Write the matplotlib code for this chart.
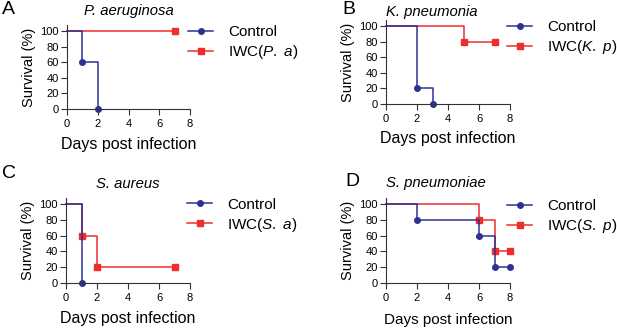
import matplotlib
matplotlib.use("Agg")
import matplotlib.pyplot as plt

plt.rcParams['font.family'] = ['Liberation Sans', 'DejaVu Sans']
plt.rcParams['mathtext.fontset'] = 'custom'
plt.rcParams['mathtext.rm'] = 'Liberation Sans'
plt.rcParams['mathtext.it'] = 'Liberation Sans:italic'

BLUE = '#2e3192'
RED = '#ee2d2d'

# survival data (days, percent)
a_ctrl_t = [0, 1, 2]
a_ctrl_s = [100, 60, 0]
a_iwc_t = [0, 7]
a_iwc_s = [100, 100]

b_ctrl_t = [0, 2, 3]
b_ctrl_s = [100, 20, 0]
b_iwc_t = [0, 5, 7]
b_iwc_s = [100, 80, 80]

c_ctrl_t = [0, 1]
c_ctrl_s = [100, 0]
c_iwc_t = [0, 1, 2, 7]
c_iwc_s = [100, 60, 20, 20]

d_ctrl_t = [0, 2, 6, 7, 8]
d_ctrl_s = [100, 80, 60, 20, 20]
d_iwc_t = [0, 6, 7, 8]
d_iwc_s = [100, 80, 40, 40]

xticks = [0, 2, 4, 6, 8]
yticks = [0, 20, 40, 60, 80, 100]

panels = [
    dict(letter='A', title='P. aeruginosa', iwc='IWC($\\it{P.\\ a}$)',
         ctrl=(a_ctrl_t, a_ctrl_s), treat=(a_iwc_t, a_iwc_s),
         rect=[0.1086, 0.6687, 0.1994, 0.2559], title_ha='center', tpad=7,
         letter_xy=(0.003, 0.998), leg_xy=(0.3047, 0.923), xpad=5.5, xfs=11.5),
    dict(letter='B', title='K. pneumonia', iwc='IWC($\\it{K.\\ p}$)',
         ctrl=(b_ctrl_t, b_ctrl_s), treat=(b_iwc_t, b_iwc_s),
         rect=[0.6256, 0.6839, 0.2010, 0.2559], title_ha='left', tpad=3,
         letter_xy=(0.555, 0.998), leg_xy=(0.8217, 0.939), xpad=5, xfs=11.5),
    dict(letter='C', title='S. aureus', iwc='IWC($\\it{S.\\ a}$)',
         ctrl=(c_ctrl_t, c_ctrl_s), treat=(c_iwc_t, c_iwc_s),
         rect=[0.107, 0.1398, 0.201, 0.2592], title_ha='center', tpad=7,
         letter_xy=(0.003, 0.497), leg_xy=(0.303, 0.399), xpad=5.5, xfs=11.5),
    dict(letter='D', title='S. pneumoniae', iwc='IWC($\\it{S.\\ p}$)',
         ctrl=(d_ctrl_t, d_ctrl_s), treat=(d_iwc_t, d_iwc_s),
         rect=[0.6256, 0.1398, 0.2010, 0.2592], title_ha='left', tpad=8,
         letter_xy=(0.559, 0.475), leg_xy=(0.8217, 0.394), xpad=6.8, xfs=11),
]

fig = plt.figure(figsize=(6.17, 3.29), dpi=100)

for p in panels:
    ax = fig.add_axes(p['rect'])
    ax.step(*p['treat'], where='post', color=RED, lw=1.1, marker='s', ms=4,
            markevery=slice(1, None), clip_on=False, label=p['iwc'])
    ax.step(*p['ctrl'], where='post', color=BLUE, lw=1.1, marker='o', ms=4,
            markevery=slice(1, None), clip_on=False, label='Control')
    ax.set_xlim(0, 8)
    ax.set_ylim(0, 108)
    ax.set_xticks(xticks)
    ax.set_yticks(yticks)
    ax.tick_params(labelsize=8, length=4.5, width=0.8, color='#333333')
    ax.tick_params(axis='x', pad=3)
    ax.tick_params(axis='y', pad=1.5)
    for s in ['top', 'right']:
        ax.spines[s].set_visible(False)
    for s in ['left', 'bottom']:
        ax.spines[s].set_linewidth(0.8)
        ax.spines[s].set_color('#333333')
    ax.set_xlabel('Days post infection', fontsize=p['xfs'], labelpad=p['xpad'])
    ax.set_ylabel('Survival (%)', fontsize=10.5, labelpad=3)
    if p['title_ha'] == 'center':
        ax.set_title(p['title'], fontsize=10.7, style='italic', pad=p['tpad'])
    else:
        ax.set_title(p['title'], fontsize=10.7, style='italic', loc='left',
                     pad=p['tpad'])
    fig.text(*p['letter_xy'], p['letter'], fontsize=14, va='top', ha='left')
    h, l = ax.get_legend_handles_labels()
    fig.legend(h[::-1], l[::-1], loc='upper left', bbox_to_anchor=p['leg_xy'],
               frameon=False, fontsize=11, handlelength=1.65, handletextpad=1.0,
               labelspacing=0.25, borderaxespad=0, borderpad=0)

fig.savefig('out.png', dpi=100)
